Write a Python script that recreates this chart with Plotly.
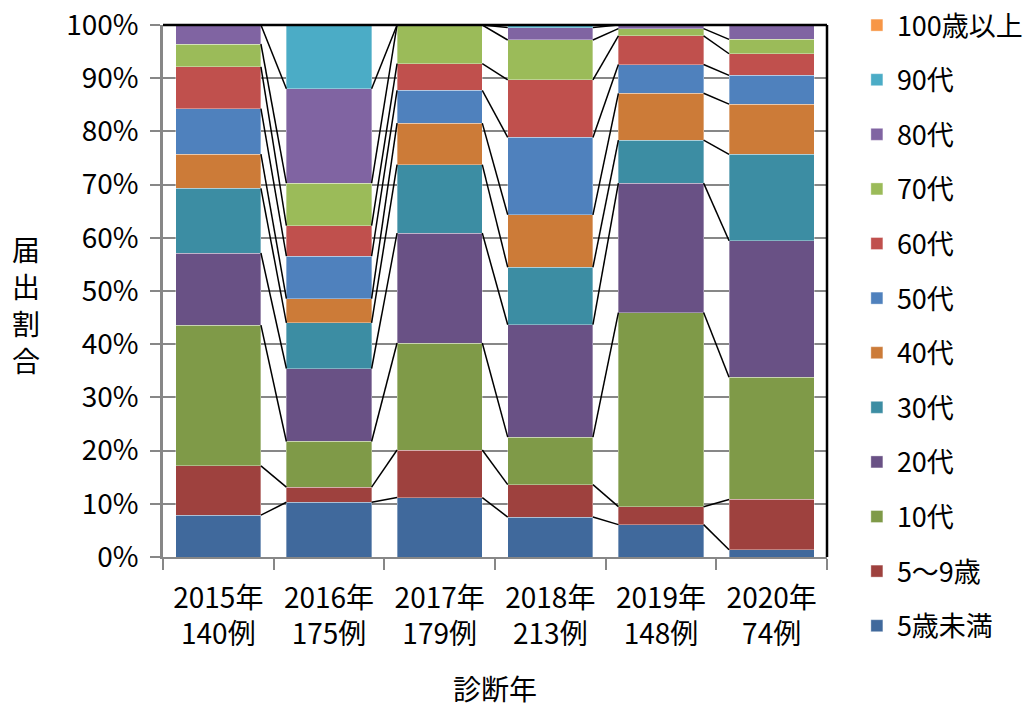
import plotly.graph_objects as go

years = ["2015年", "2016年", "2017年", "2018年", "2019年", "2020年"]
totals = [140, 175, 179, 213, 148, 74]
series_names = ["5歳未満", "5〜9歳", "10代", "20代", "30代", "40代",
                "50代", "60代", "70代", "80代", "90代", "100歳以上"]
counts = {
    "5歳未満":   [11, 18, 20, 16, 9, 1],
    "5〜9歳":    [13, 5, 16, 13, 5, 7],
    "10代":      [37, 15, 36, 19, 54, 17],
    "20代":      [19, 24, 37, 45, 36, 19],
    "30代":      [17, 15, 23, 23, 12, 12],
    "40代":      [9, 8, 14, 21, 13, 7],
    "50代":      [12, 14, 11, 31, 8, 4],
    "60代":      [11, 10, 9, 23, 8, 3],
    "70代":      [6, 14, 13, 16, 2, 2],
    "80代":      [5, 31, 0, 5, 1, 2],
    "90代":      [0, 21, 0, 1, 0, 0],
    "100歳以上": [0, 0, 0, 0, 0, 0],
}
y_ticks = list(range(0, 101, 10))
y_tick_text = [f"{v}%" for v in y_ticks]
y_title_chars = ["届", "出", "割", "合"]
colors = {
    "5歳未満": "#40699C", "5〜9歳": "#9E413E", "10代": "#7F9A48",
    "20代": "#695185", "30代": "#3C8DA3", "40代": "#CC7B38",
    "50代": "#4F81BD", "60代": "#C0504D", "70代": "#9BBB59",
    "80代": "#8064A2", "90代": "#4BACC6", "100歳以上": "#F79646",
}

FONT = "Noto Sans CJK JP"
FS = 28
BAR_W = 0.77
# page body has an 8px margin, so margins are offset accordingly
M_L, M_R, M_T, M_B = 155, 214, 17, 162
PLOT_H = 711 - M_T - M_B
x_pos = list(range(len(years)))
tick_text = [f"{y}<br>{t}例" for y, t in zip(years, totals)]

fig = go.Figure()
cum = [0.0] * len(years)
tops = {}
n = len(series_names)
for k, name in enumerate(series_names):
    pct = [c / t * 100 for c, t in zip(counts[name], totals)]
    fig.add_trace(go.Bar(
        x=x_pos, y=pct, name=name, width=BAR_W,
        marker=dict(color=colors[name], line=dict(color="rgba(255,255,255,0.35)", width=1)),
        legendrank=n - k, legendgroup=name,
    ))
    cum = [a + b for a, b in zip(cum, pct)]
    tops[name] = cum[:]

# series lines (connect segment tops between adjacent bars)
lx, ly = [], []
for name in series_names:
    t = tops[name]
    for i in range(len(years) - 1):
        lx += [x_pos[i] + BAR_W / 2, x_pos[i + 1] - BAR_W / 2, None]
        ly += [t[i], t[i + 1], None]
fig.add_trace(go.Scatter(x=lx, y=ly, mode="lines", line=dict(color="black", width=1.5),
                         showlegend=False, hoverinfo="skip"))

fig.update_layout(
    width=1033, height=711,
    margin=dict(l=M_L, r=M_R, t=M_T, b=M_B, autoexpand=False),
    barmode="stack",
    plot_bgcolor="white", paper_bgcolor="white",
    font=dict(family=FONT, size=FS, color="black"),
    showlegend=True,
    legend=dict(x=1.045, y=1.045, xanchor="left", yanchor="top",
                traceorder="grouped", itemwidth=30, maxheight=1,
                font=dict(family=FONT, size=FS - 1), bgcolor="rgba(0,0,0,0)",
                tracegroupgap=16.5),
    bargap=0.23,
)
fig.update_xaxes(
    range=[-0.5, 5.5], tickmode="array", tickvals=x_pos, ticktext=tick_text,
    tickfont=dict(size=FS),
    ticks="", showline=True, linecolor="#878787", linewidth=2, showgrid=False,
    zeroline=False, ticklabelstandoff=15,
    minor=dict(tickmode="array", tickvals=[i - 0.5 for i in range(len(years) + 1)],
               ticks="outside", ticklen=11, tickwidth=2, tickcolor="#878787", showgrid=False),
)
fig.update_yaxes(
    range=[0, 100], tickmode="array", tickvals=y_ticks, ticktext=y_tick_text,
    ticks="outside", ticklen=10, tickwidth=2, tickcolor="#878787",
    showline=True, linecolor="#878787", linewidth=2.5,
    showgrid=True, gridcolor="#878787", gridwidth=1.5, zeroline=False,
    ticklabelstandoff=6, ticklabeloverflow="allow",
)
# top and right plot border
fig.add_shape(type="line", xref="paper", yref="paper", x0=0, x1=1, y0=1, y1=1,
              line=dict(color="black", width=2.5), layer="above")
fig.add_shape(type="line", xref="paper", yref="paper", x0=1, x1=1, y0=0, y1=1,
              line=dict(color="black", width=2.5), layer="above")

# vertical (upright, stacked) y-axis title
for j, ch in enumerate(y_title_chars):
    fig.add_annotation(text=ch, xref="paper", yref="paper",
                       x=-0.207, y=(308 - 37 * j) / PLOT_H,
                       showarrow=False, xanchor="center", yanchor="middle",
                       font=dict(family=FONT, size=FS))
fig.add_annotation(text="診断年", xref="paper", yref="paper",
                   x=0.5, y=-0.247, showarrow=False, xanchor="center", yanchor="middle",
                   font=dict(family=FONT, size=FS))

fig.write_html("out.html")
